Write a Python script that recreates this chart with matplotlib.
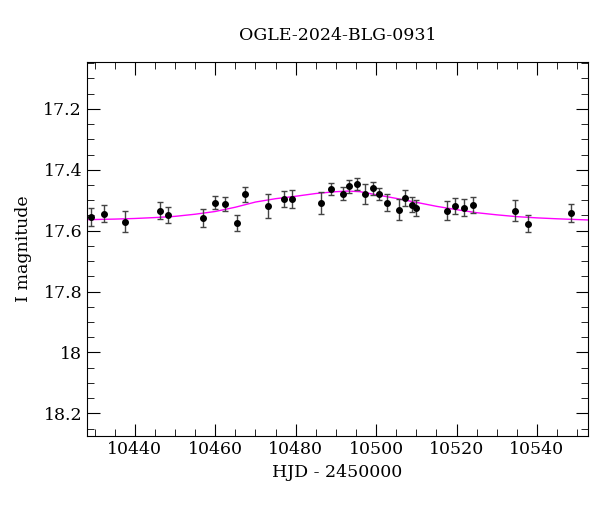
import matplotlib
matplotlib.use("Agg")
import matplotlib.pyplot as plt
from matplotlib.ticker import MultipleLocator

hjd = [10429.2, 10432.4, 10437.6, 10446.3, 10448.3, 10457.0, 10460.0, 10462.3,
       10465.4, 10467.4, 10473.0, 10477.2, 10479.2, 10486.4, 10488.8, 10491.8,
       10493.2, 10495.2, 10497.3, 10499.2, 10500.6, 10502.8, 10505.6, 10507.1,
       10509.0, 10510.0, 10517.7, 10519.7, 10521.8, 10524.0, 10534.6, 10537.8,
       10548.5]
mag = [17.555, 17.545, 17.570, 17.534, 17.549, 17.559, 17.508, 17.513,
       17.575, 17.481, 17.518, 17.496, 17.496, 17.508, 17.463, 17.478,
       17.454, 17.446, 17.480, 17.461, 17.480, 17.508, 17.531, 17.492,
       17.515, 17.526, 17.534, 17.518, 17.525, 17.516, 17.534, 17.577,
       17.542]
err = [0.030, 0.028, 0.036, 0.027, 0.026, 0.029, 0.022, 0.023,
       0.025, 0.025, 0.040, 0.026, 0.028, 0.036, 0.021, 0.022,
       0.022, 0.019, 0.032, 0.022, 0.020, 0.027, 0.034, 0.026,
       0.025, 0.027, 0.032, 0.026, 0.028, 0.026, 0.035, 0.027,
       0.030]

model_t = [10428, 10435, 10440, 10445, 10450, 10455, 10460, 10465, 10470,
           10475, 10480, 10485, 10490, 10493, 10496, 10500, 10505, 10510,
           10515, 10520, 10525, 10530, 10535, 10540, 10545, 10553]
model_m = [17.564, 17.562, 17.560, 17.557, 17.553, 17.546, 17.537, 17.523, 17.506,
           17.495, 17.487, 17.478, 17.472, 17.470, 17.472, 17.482, 17.494, 17.507,
           17.520, 17.531, 17.541, 17.548, 17.554, 17.558, 17.561, 17.565]

plt.rcParams["font.family"] = "DejaVu Serif"
fig, ax = plt.subplots(figsize=(6, 5.12), dpi=100)
fig.subplots_adjust(left=0.145, right=0.98, top=0.879, bottom=0.148)

ax.plot(model_t, model_m, color="magenta", lw=1)
ax.errorbar(hjd, mag, yerr=err, fmt="o", color="black", ms=4,
            ecolor="#444444", elinewidth=1, capsize=2.5, capthick=1)

ax.set_xlim(10428.1, 10552.7)
ax.set_ylim(18.275, 17.046)
ax.xaxis.set_major_locator(MultipleLocator(20))
ax.xaxis.set_minor_locator(MultipleLocator(5))
ax.yaxis.set_major_locator(MultipleLocator(0.2))
ax.yaxis.set_minor_locator(MultipleLocator(0.05))
ax.yaxis.set_major_formatter(plt.FuncFormatter(lambda v, p: f"{v:g}"))
ax.tick_params(which="both", direction="in", top=True, right=True, labelsize=12.5)
ax.tick_params(which="major", length=9)
ax.tick_params(which="minor", length=5)

ax.set_xlabel("HJD - 2450000", fontsize=12.5)
ax.set_ylabel("I magnitude", fontsize=12.5, labelpad=8)
ax.set_title("OGLE-2024-BLG-0931", fontsize=12.5, pad=16)

fig.savefig("out.png")
